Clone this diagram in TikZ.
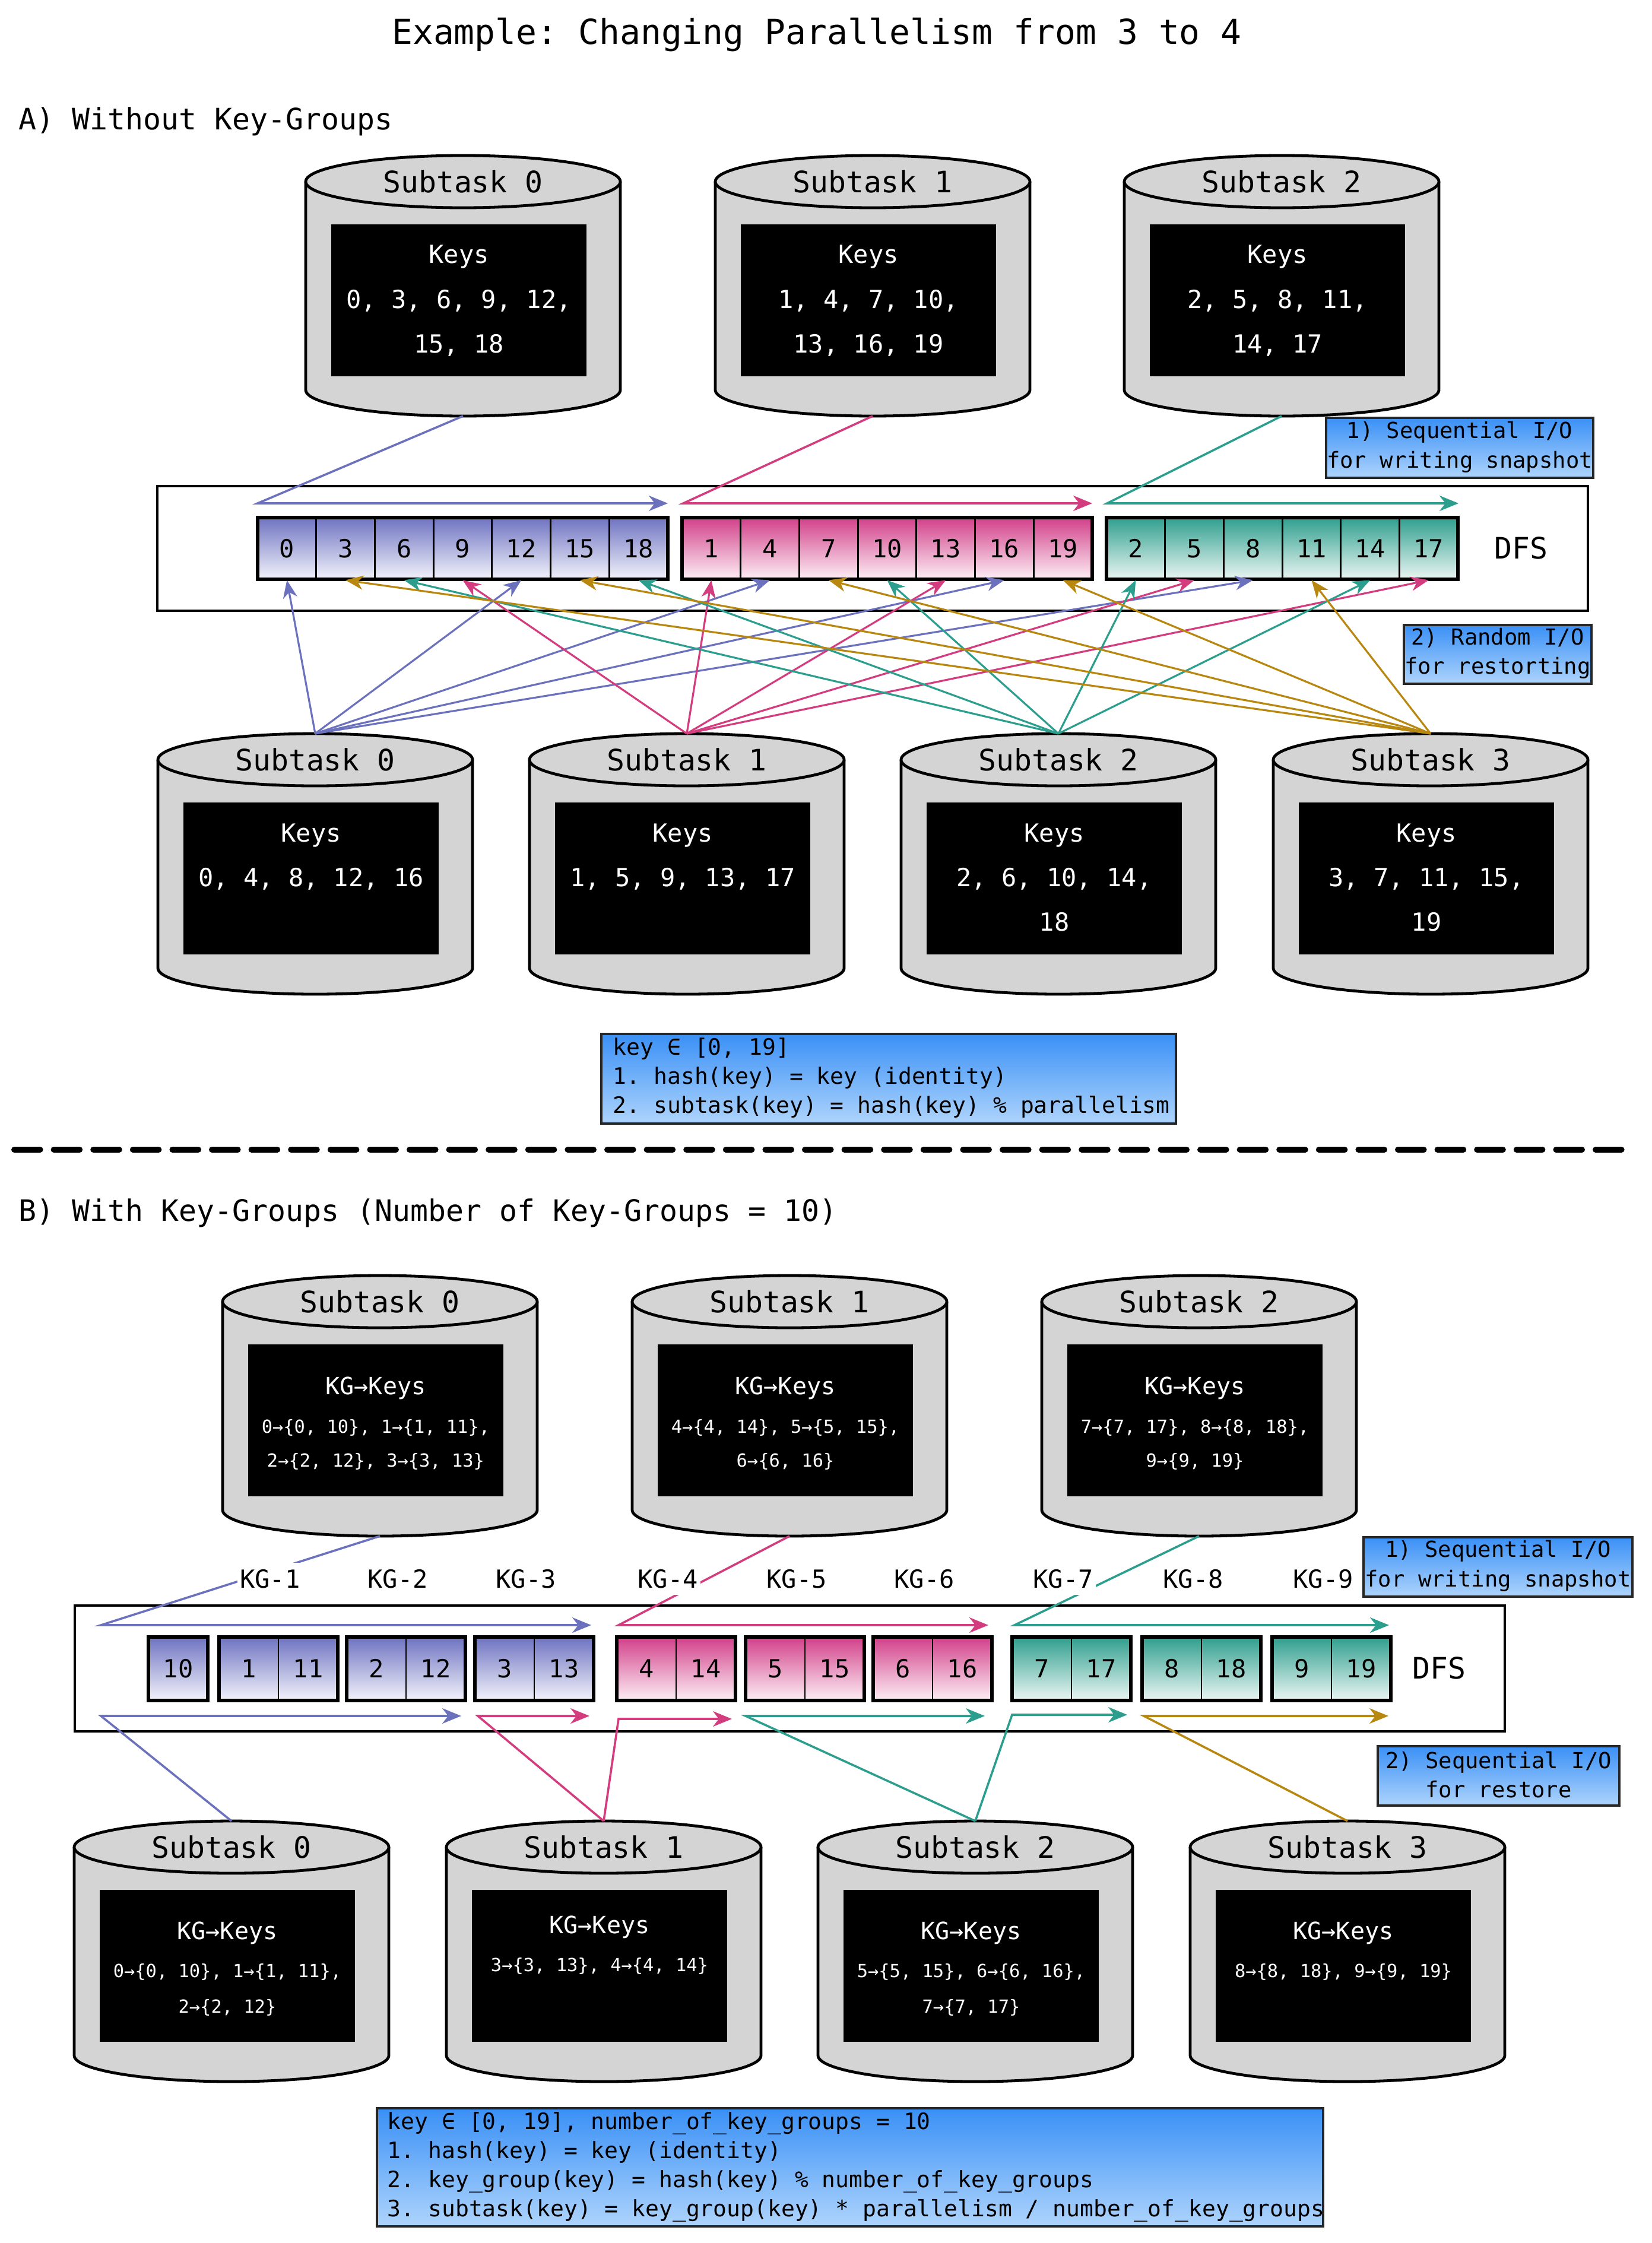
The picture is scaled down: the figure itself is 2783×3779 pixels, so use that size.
\documentclass[tikz,border=0pt]{standalone}
\usepackage{fontspec}
\setmainfont{DejaVu Sans Mono}
\usetikzlibrary{arrows.meta}
\definecolor{cblue}{HTML}{6C71BE}
\definecolor{cpink}{HTML}{D33C7F}
\definecolor{cgreen}{HTML}{2B9E8E}
\definecolor{cgold}{HTML}{B8870F}
\definecolor{tblue}{HTML}{6E73C1}
\definecolor{bblue}{HTML}{F3F3FB}
\definecolor{tpink}{HTML}{D2408A}
\definecolor{bpink}{HTML}{FDEFF5}
\definecolor{tgreen}{HTML}{2F9F8E}
\definecolor{bgreen}{HTML}{EBF6F3}
\definecolor{boxtop}{HTML}{3A90F6}
\definecolor{boxbot}{HTML}{AED4FC}
\definecolor{cylgray}{HTML}{D4D4D4}
\frenchspacing
\newcommand\fs[2]{\fontsize{#1}{#2}\selectfont}
% cylinder: #1 name, #2 centre x, #3 top ellipse centre y, #4 label
\newcommand\cyl[4]{%
  \filldraw[cylst] ({#2-265},#3) -- ({#2-265},{#3+351}) arc[start angle=180,end angle=0,x radius=265,y radius=44] -- ({#2+265},#3);
  \filldraw[cylst] (#2,#3) ellipse[x radius=265,y radius=44];
  \node[t125] (#1-lab) at (#2,#3) {#4};
  \node[kbox] (#1-box) at ({#2-7},{#3+200}) {};
  \coordinate (#1-top) at (#2,{#3-44});
  \coordinate (#1-bot) at (#2,{#3+395});
}
\begin{document}
\begin{tikzpicture}[x=0.25pt,y=-0.25pt,
  cylst/.style={fill=cylgray,draw=black,line width=1.2pt},
  kbox/.style={fill=black,minimum width=107.5pt,minimum height=64pt,inner sep=0pt},
  t145/.style={inner sep=0pt,text height=10.6pt,text depth=0pt,font=\fs{14.5}{17}},
  t125/.style={inner sep=0pt,text height=9.1pt,text depth=0pt,font=\fs{12.45}{15}},
  t105/.style={inner sep=0pt,text height=7.7pt,text depth=0pt,font=\fs{10.5}{12}},
  t100/.style={inner sep=0pt,text height=7.3pt,text depth=0pt,font=\fs{10}{12}},
  t76/.style={inner sep=0pt,text height=5.55pt,text depth=0pt,font=\fs{7.6}{9}},
  wt/.style={text=white},
  cella/.style={t105,draw=black,line width=0.7pt,minimum width=24.675pt,minimum height=26pt},
  cellb/.style={t105,draw=black,line width=0.7pt,minimum width=25pt,minimum height=26.75pt},
  grp/.style={draw=black,line width=1.3pt},
  dfsbox/.style={draw=black,line width=1.2pt},
  sa/.style={line width=0.9pt,-{Stealth[length=8pt,width=6.5pt,inset=2.5pt]}},
  ra/.style={line width=0.8pt,-{Stealth[length=7.5pt,width=6pt,inset=2.3pt]}},
  ibox/.style={draw=black!85,line width=0.8pt,top color=boxtop,bottom color=boxbot,inner sep=0pt},
  itext/.style={inner sep=0pt,align=center,font=\fs{9.3}{12.4}},
  ktext/.style={inner sep=0pt,align=left,font=\fs{9.5}{12.2}},
  kgl/.style={t105,fill=white,inner xsep=1pt,inner ysep=3pt}
]
\useasboundingbox (0,0) rectangle (2783,3779);

% ---------- titles ----------
\node[t145] (title) at (1376,53) {Example: Changing Parallelism from 3 to 4};
\node[t125,anchor=west] (headA) at (31,200) {A) Without Key-Groups};

% ---------- A: old subtasks ----------
\cyl{at0}{780}{306}{Subtask 0}
\node[t105,wt] (at0-h) at (773,428) {Keys};
\node[t105,wt] (at0-l1) at (773,504) {0, 3, 6, 9, 12,};
\node[t105,wt] (at0-l2) at (773,579) {15, 18};
\cyl{at1}{1470}{306}{Subtask 1}
\node[t105,wt] (at1-h) at (1463,428) {Keys};
\node[t105,wt] (at1-l1) at (1463,504) {1, 4, 7, 10,};
\node[t105,wt] (at1-l2) at (1463,579) {13, 16, 19};
\cyl{at2}{2159}{306}{Subtask 2}
\node[t105,wt] (at2-h) at (2152,428) {Keys};
\node[t105,wt] (at2-l1) at (2152,504) {2, 5, 8, 11,};
\node[t105,wt] (at2-l2) at (2152,579) {14, 17};

% ---------- A: DFS ----------
\draw[dfsbox] (265,819) rectangle (2675,1029);
\foreach \k [count=\i from 0] in {0,3,6,9,12,15,18}
  \node[cella,top color=tblue,bottom color=bblue] (kA\k) at ({483.35+98.7*\i},924) {\k};
\foreach \k [count=\i from 0] in {1,4,7,10,13,16,19}
  \node[cella,top color=tpink,bottom color=bpink] (kA\k) at ({1198.35+98.7*\i},924) {\k};
\foreach \k [count=\i from 0] in {2,5,8,11,14,17}
  \node[cella,top color=tgreen,bottom color=bgreen] (kA\k) at ({1913.35+98.7*\i},924) {\k};
\draw[grp] (434,872) rectangle (1125,976);
\draw[grp] (1149,872) rectangle (1840,976);
\draw[grp] (1864,872) rectangle (2456,976);
\node[t125] (dfsA) at (2562,923) {DFS};

% ---------- A: new subtasks ----------
\cyl{ab0}{531}{1280}{Subtask 0}
\node[t105,wt] (ab0-h) at (524,1403) {Keys};
\node[t105,wt] (ab0-l1) at (524,1478) {0, 4, 8, 12, 16};
\cyl{ab1}{1157}{1280}{Subtask 1}
\node[t105,wt] (ab1-h) at (1150,1403) {Keys};
\node[t105,wt] (ab1-l1) at (1150,1478) {1, 5, 9, 13, 17};
\cyl{ab2}{1783}{1280}{Subtask 2}
\node[t105,wt] (ab2-h) at (1776,1403) {Keys};
\node[t105,wt] (ab2-l1) at (1776,1478) {2, 6, 10, 14,};
\node[t105,wt] (ab2-l2) at (1776,1553) {18};
\cyl{ab3}{2410}{1280}{Subtask 3}
\node[t105,wt] (ab3-h) at (2403,1403) {Keys};
\node[t105,wt] (ab3-l1) at (2403,1478) {3, 7, 11, 15,};
\node[t105,wt] (ab3-l2) at (2403,1553) {19};

% ---------- A: sequential write arrows ----------
\coordinate (sa0s) at (434,848);  \coordinate (sa0e) at (1125,848);
\coordinate (sa1s) at (1151,848); \coordinate (sa1e) at (1840,848);
\coordinate (sa2s) at (1865,848); \coordinate (sa2e) at (2457,848);
\draw[sa,cblue]  (at0-bot) -- (sa0s) -- (sa0e);
\draw[sa,cpink]  (at1-bot) -- (sa1s) -- (sa1e);
\draw[sa,cgreen] (at2-bot) -- (sa2s) -- (sa2e);

% ---------- A: random read arrows ----------
\foreach \k in {0,4,8,12,16}  \draw[ra,cblue]  (ab0-top) -- (kA\k.south);
\foreach \k in {1,5,9,13,17}  \draw[ra,cpink]  (ab1-top) -- (kA\k.south);
\foreach \k in {2,6,10,14,18} \draw[ra,cgreen] (ab2-top) -- (kA\k.south);
\foreach \k in {3,7,11,15,19} \draw[ra,cgold]  (ab3-top) -- (kA\k.south);

% ---------- A: info boxes ----------
\node[ibox,minimum width=112.5pt,minimum height=25.25pt] (infoA1) at (2459,754.5) {};
\node[itext] (infoA1t) at (2459,753) {1) Sequential I/O\\for writing snapshot};
\node[ibox,minimum width=79pt,minimum height=24.75pt] (infoA2) at (2523,1102.5) {};
\node[itext] (infoA2t) at (2523,1101) {2) Random I/O\\for restorting};
\node[ibox,minimum width=242pt,minimum height=37.75pt] (keyA) at (1497,1817.5) {};
\node[ktext,anchor=west] (keyAt) at (1032,1816) {key ∈ [0, 19]\\1. hash(key) = key (identity)\\2. subtask(key) = hash(key) \% parallelism};

% ---------- separator ----------
\coordinate (sepL) at (24,1937); \coordinate (sepR) at (2740,1937);
\draw[line width=2.5pt,line cap=round,dash pattern=on 10.9pt off 5.75pt] (sepL) -- (sepR);

\node[t125,anchor=west] (headB) at (31,2039) {B) With Key-Groups (Number of Key-Groups = 10)};

% ---------- B: old subtasks ----------
\cyl{bt0}{640}{2193}{Subtask 0}
\node[t100,wt] (bt0-h) at (633,2335) {KG→Keys};
\node[t76,wt] (bt0-l1) at (633,2403) {0→\{0, 10\}, 1→\{1, 11\},};
\node[t76,wt] (bt0-l2) at (633,2460) {2→\{2, 12\}, 3→\{3, 13\}};
\cyl{bt1}{1330}{2193}{Subtask 1}
\node[t100,wt] (bt1-h) at (1323,2335) {KG→Keys};
\node[t76,wt] (bt1-l1) at (1323,2403) {4→\{4, 14\}, 5→\{5, 15\},};
\node[t76,wt] (bt1-l2) at (1323,2460) {6→\{6, 16\}};
\cyl{bt2}{2020}{2193}{Subtask 2}
\node[t100,wt] (bt2-h) at (2013,2335) {KG→Keys};
\node[t76,wt] (bt2-l1) at (2013,2403) {7→\{7, 17\}, 8→\{8, 18\},};
\node[t76,wt] (bt2-l2) at (2013,2460) {9→\{9, 19\}};

% ---------- B: DFS ----------
\draw[dfsbox] (126,2705) rectangle (2535,2917);
\node[cellb,top color=tblue,bottom color=bblue] (kB10) at (300,2811.5) {10};
\draw[grp] (250,2758) rectangle (350,2865);
\foreach \g/\xo/\tc/\bc in {1/369/tblue/bblue,2/584/tblue/bblue,3/800/tblue/bblue,
    4/1039/tpink/bpink,5/1256/tpink/bpink,6/1471/tpink/bpink,
    7/1705/tgreen/bgreen,8/1924/tgreen/bgreen,9/2143/tgreen/bgreen}{
  \node[cellb,top color=\tc,bottom color=\bc] (kB\g) at ({\xo+50},2811.5) {\g};
  \node[cellb,top color=\tc,bottom color=\bc] (kB1\g) at ({\xo+150},2811.5) {1\g};
  \draw[grp] (\xo,2758) rectangle ({\xo+200},2865);
}
\node[t125] (dfsB) at (2424,2810) {DFS};

% ---------- B: new subtasks ----------
\cyl{bb0}{390}{3112}{Subtask 0}
\node[t100,wt] (bb0-h) at (383,3253) {KG→Keys};
\node[t76,wt] (bb0-l1) at (383,3320) {0→\{0, 10\}, 1→\{1, 11\},};
\node[t76,wt] (bb0-l2) at (383,3380) {2→\{2, 12\}};
\cyl{bb1}{1017}{3112}{Subtask 1}
\node[t100,wt] (bb1-h) at (1010,3243) {KG→Keys};
\node[t76,wt] (bb1-l1) at (1010,3310) {3→\{3, 13\}, 4→\{4, 14\}};
\cyl{bb2}{1643}{3112}{Subtask 2}
\node[t100,wt] (bb2-h) at (1636,3253) {KG→Keys};
\node[t76,wt] (bb2-l1) at (1636,3320) {5→\{5, 15\}, 6→\{6, 16\},};
\node[t76,wt] (bb2-l2) at (1636,3380) {7→\{7, 17\}};
\cyl{bb3}{2270}{3112}{Subtask 3}
\node[t100,wt] (bb3-h) at (2263,3253) {KG→Keys};
\node[t76,wt] (bb3-l1) at (2263,3320) {8→\{8, 18\}, 9→\{9, 19\}};

% ---------- B: sequential write arrows ----------
\coordinate (sb0s) at (170,2738);  \coordinate (sb0e) at (996,2738);
\coordinate (sb1s) at (1042,2738); \coordinate (sb1e) at (1665,2738);
\coordinate (sb2s) at (1709,2738); \coordinate (sb2e) at (2340,2738);
\draw[sa,cblue]  (bt0-bot) -- (sb0s) -- (sb0e);
\draw[sa,cpink]  (bt1-bot) -- (sb1s) -- (sb1e);
\draw[sa,cgreen] (bt2-bot) -- (sb2s) -- (sb2e);

% ---------- B: sequential restore arrows ----------
\coordinate (rb0s) at (170,2891);  \coordinate (rb0e) at (777,2891);
\coordinate (rb1s) at (805,2891);  \coordinate (rb1e) at (993,2891);
\coordinate (rb2s) at (1042,2896); \coordinate (rb2e) at (1233,2896);
\coordinate (rb3s) at (1256,2891); \coordinate (rb3e) at (1659,2891);
\coordinate (rb4s) at (1705,2889); \coordinate (rb4e) at (1899,2889);
\coordinate (rb5s) at (1927,2891); \coordinate (rb5e) at (2339,2891);
\draw[sa,cblue]  (bb0-top) -- (rb0s) -- (rb0e);
\draw[sa,cpink]  (bb1-top) -- (rb1s) -- (rb1e);
\draw[sa,cpink]  (bb1-top) -- (rb2s) -- (rb2e);
\draw[sa,cgreen] (bb2-top) -- (rb3s) -- (rb3e);
\draw[sa,cgreen] (bb2-top) -- (rb4s) -- (rb4e);
\draw[sa,cgold]  (bb3-top) -- (rb5s) -- (rb5e);

% ---------- B: key-group labels ----------
\foreach \g/\xo in {1/369,2/584,3/800,4/1039,5/1256,6/1471,7/1705,8/1924,9/2143}
  \node[kgl] (kg\g) at ({\xo+86},2660) {KG-\g};

% ---------- B: info boxes ----------
\node[ibox,minimum width=113.25pt,minimum height=25pt] (infoB1) at (2523.5,2640) {};
\node[itext] (infoB1t) at (2523.5,2638.5) {1) Sequential I/O\\for writing snapshot};
\node[ibox,minimum width=101.75pt,minimum height=25pt] (infoB2) at (2524.5,2992) {};
\node[itext] (infoB2t) at (2524.5,2990) {2) Sequential I/O\\for restore};
\node[ibox,minimum width=398.5pt,minimum height=49.75pt] (keyB) at (1432,3651.5) {};
\node[ktext,anchor=west] (keyBt) at (652,3651) {key ∈ [0, 19], number\_of\_key\_groups = 10\\1. hash(key) = key (identity)\\2. key\_group(key) = hash(key) \% number\_of\_key\_groups\\3. subtask(key) = key\_group(key) * parallelism / number\_of\_key\_groups};
\end{tikzpicture}
\end{document}
